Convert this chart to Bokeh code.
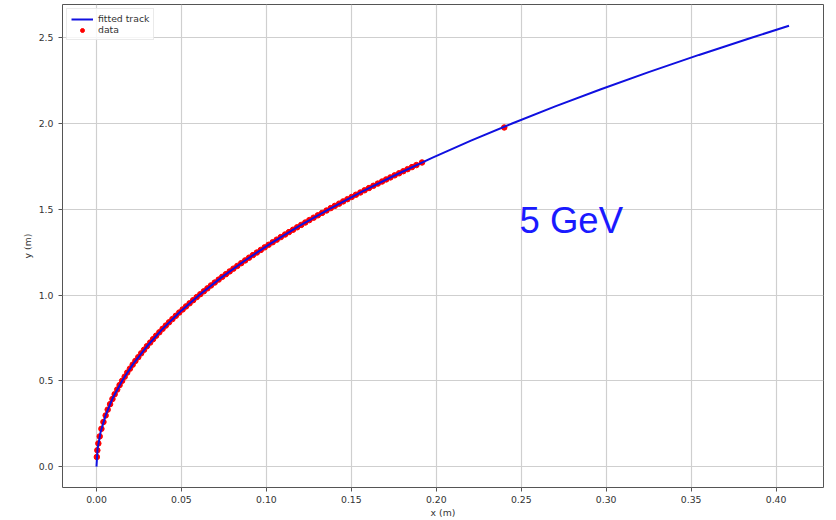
from bokeh.plotting import figure
from bokeh.models import Range1d, FixedTicker, NumeralTickFormatter, Legend, LegendItem
from bokeh.core.properties import value
from bokeh.embed import file_html
from bokeh.resources import INLINE

# fitted track (circle of radius ~8.3 m through the origin)
fit_y = [0.0, 0.1, 0.2, 0.3, 0.4, 0.5, 0.6, 0.7, 0.8, 0.9, 1.0, 1.1, 1.2, 1.3,
         1.4, 1.5, 1.6, 1.7, 1.8, 1.9, 2.0, 2.1, 2.2, 2.3, 2.4, 2.5, 2.57]
fit_x = [0.0, 0.0006, 0.0024, 0.0054, 0.0096, 0.0151, 0.0217, 0.0296, 0.0386,
         0.0489, 0.0605, 0.0732, 0.0872, 0.1024, 0.1189, 0.1367, 0.1557, 0.1760,
         0.1975, 0.2204, 0.2446, 0.2700, 0.2969, 0.3250, 0.3546, 0.3855, 0.4076]

# measured hits
data_y = [0.056, 0.095, 0.135, 0.176, 0.220, 0.260, 0.298, 0.332, 0.364, 0.394,
          0.422, 0.449, 0.475, 0.500, 0.524, 0.548, 0.571, 0.594, 0.616, 0.638,
          0.660, 0.681, 0.702, 0.723, 0.743, 0.763, 0.783, 0.803, 0.822, 0.841,
          0.860, 0.879, 0.898, 0.916, 0.934, 0.952, 0.970, 0.988, 1.005, 1.022,
          1.039, 1.056, 1.073, 1.090, 1.106, 1.122, 1.138, 1.154, 1.170, 1.186,
          1.202, 1.218, 1.233, 1.248, 1.263, 1.278, 1.293, 1.308, 1.323, 1.338,
          1.353, 1.367, 1.381, 1.395, 1.409, 1.423, 1.437, 1.451, 1.465, 1.479,
          1.493, 1.507, 1.520, 1.533, 1.546, 1.559, 1.572, 1.585, 1.598, 1.611,
          1.624, 1.637, 1.650, 1.662, 1.674, 1.686, 1.698, 1.710, 1.722, 1.734,
          1.746, 1.758, 1.773, 1.977]
data_x = [0.0002, 0.0005, 0.0011, 0.0019, 0.0029, 0.0041, 0.0054, 0.0066, 0.0080, 0.0094,
          0.0107, 0.0122, 0.0136, 0.0151, 0.0166, 0.0181, 0.0197, 0.0213, 0.0229, 0.0246,
          0.0263, 0.0280, 0.0297, 0.0316, 0.0333, 0.0351, 0.0370, 0.0389, 0.0408, 0.0427,
          0.0447, 0.0467, 0.0487, 0.0507, 0.0527, 0.0548, 0.0569, 0.0590, 0.0611, 0.0632,
          0.0653, 0.0674, 0.0696, 0.0719, 0.0740, 0.0762, 0.0784, 0.0806, 0.0829, 0.0852,
          0.0875, 0.0898, 0.0921, 0.0944, 0.0967, 0.0990, 0.1013, 0.1037, 0.1061, 0.1085,
          0.1110, 0.1133, 0.1157, 0.1181, 0.1205, 0.1229, 0.1253, 0.1278, 0.1303, 0.1328,
          0.1354, 0.1379, 0.1403, 0.1428, 0.1452, 0.1477, 0.1502, 0.1527, 0.1553, 0.1578,
          0.1604, 0.1630, 0.1656, 0.1681, 0.1705, 0.1730, 0.1755, 0.1781, 0.1806, 0.1831,
          0.1857, 0.1883, 0.1916, 0.2400]

x_ticks = [0.0, 0.05, 0.10, 0.15, 0.20, 0.25, 0.30, 0.35, 0.40]
y_ticks = [0.0, 0.5, 1.0, 1.5, 2.0, 2.5]
energy_label = "5 GeV"

FONT = "DejaVu Sans"
TXT = "9.3px"

p = figure(width=836, height=520, output_backend="svg", toolbar_location=None,
           x_range=Range1d(-0.020, 0.4279), y_range=Range1d(-0.122, 2.694),
           min_border_left=62, min_border_right=13, min_border_top=4,
           min_border_bottom=32)
p.background_fill_color = "white"
p.border_fill_color = "white"
p.outline_line_color = "#555555"
p.outline_line_width = 1

for ax in (p.xaxis[0], p.yaxis[0]):
    ax.axis_line_color = None
    ax.major_tick_out = 4
    ax.major_tick_in = 0
    ax.major_tick_line_color = "#555555"
    ax.minor_tick_line_color = None
    ax.major_label_text_font = FONT
    ax.major_label_text_font_size = TXT
    ax.major_label_text_color = "#333333"
    ax.axis_label_text_font = FONT
    ax.axis_label_text_font_size = TXT
    ax.axis_label_text_font_style = "normal"
    ax.axis_label_text_color = "#333333"

p.xaxis.ticker = FixedTicker(ticks=x_ticks)
p.xaxis.formatter = NumeralTickFormatter(format="0.00")
p.xaxis.axis_label = "x (m)"
p.xaxis.major_label_standoff = 4
p.xaxis.axis_label_standoff = 1
p.yaxis.ticker = FixedTicker(ticks=y_ticks)
p.yaxis.formatter = NumeralTickFormatter(format="0.0")
p.yaxis.axis_label = "y (m)"
p.yaxis.major_label_standoff = 5
p.yaxis.axis_label_standoff = 3

p.xgrid.ticker = FixedTicker(ticks=x_ticks)
p.ygrid.ticker = FixedTicker(ticks=y_ticks)
for g in (p.xgrid[0], p.ygrid[0]):
    g.grid_line_color = "#cfcfcf"
    g.grid_line_width = 1.2

pts = p.scatter(data_x, data_y, size=5.5, color="red", line_color="red")
trk = p.line(fit_x, fit_y, line_color="#1010e0", line_width=2)

p.text(x=[0.249], y=[1.434], text=[energy_label], text_color="#1a1aff",
       text_font=value("Liberation Sans"), text_font_size="36.5px",
       text_baseline="alphabetic", text_align="left")

legend = Legend(items=[LegendItem(label="fitted track", renderers=[trk]),
                       LegendItem(label="data", renderers=[pts])],
                location="top_left", margin=4, padding=4, spacing=0,
                glyph_width=22, glyph_height=10, label_standoff=5,
                label_text_font=FONT, label_text_font_size=TXT,
                label_text_color="#333333", label_height=10,
                border_line_color="#d5d5d5", border_line_width=1,
                background_fill_alpha=0.8)
p.add_layout(legend)

open("out.html", "w").write(file_html(p, INLINE))
